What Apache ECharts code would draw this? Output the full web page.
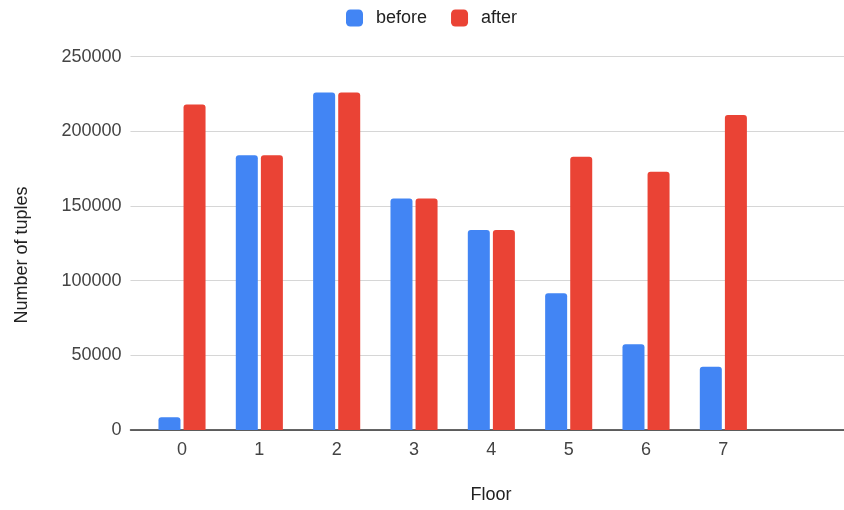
<!DOCTYPE html>
<html>
<head>
<meta charset="utf-8">
<script src="https://cdn.jsdelivr.net/npm/echarts@6/dist/echarts.min.js"></script>
<style>
  html, body { margin: 0; padding: 0; background: #fff; }
  #chart { width: 844px; height: 510px; }
</style>
</head>
<body>
<div id="chart"></div>
<script>
const floors = [0, 1, 2, 3, 4, 5, 6, 7];
const before = [8500, 184000, 226000, 155000, 134000, 91500, 57400, 42400];
const after = [218000, 184000, 226000, 155000, 134000, 183000, 173000, 211000];
const yTicks = [0, 50000, 100000, 150000, 200000, 250000];
const seriesNames = ['before', 'after'];
const xTitle = 'Floor';
const yTitle = 'Number of tuples';

const FONT = '"Liberation Sans", Arial, sans-serif';
const chart = echarts.init(document.getElementById('chart'), null, { renderer: 'canvas' });

const toPairs = (vals) => floors.map((f, i) => [f, vals[i]]);

chart.setOption({
  animation: false,
  backgroundColor: '#ffffff',
  color: ['#4285F4', '#EA4335'],
  legend: {
    data: seriesNames,
    left: 341,
    top: 4,
    itemWidth: 17,
    itemHeight: 17,
    itemGap: 24,
    icon: 'roundRect',
    textStyle: { fontFamily: FONT, fontSize: 18, color: '#222', padding: [0, 0, 0, 8] }
  },
  grid: { left: 130.5, right: 0, top: 56.7, bottom: 80, containLabel: false },
  xAxis: {
    type: 'value',
    min: -0.666,
    max: 8.56,
    splitNumber: 9,
    splitLine: { show: false },
    axisTick: { show: false },
    axisLine: { show: true, onZero: false, lineStyle: { color: '#333', width: 1.5 } },
    axisLabel: {
      fontFamily: FONT, fontSize: 18, color: '#444', margin: 11,
      showMinLabel: false, showMaxLabel: false,
      formatter: (v) => (floors.indexOf(v) >= 0 ? String(v) : '')
    }
  },
  yAxis: {
    type: 'value',
    min: yTicks[0],
    max: yTicks[yTicks.length - 1],
    interval: yTicks[1] - yTicks[0],
    axisLine: { show: false },
    axisTick: { show: false },
    splitLine: { lineStyle: { color: '#d6d6d6', width: 1.2 } },
    axisLabel: { fontFamily: FONT, fontSize: 18, color: '#444', margin: 9, formatter: (v) => String(v) }
  },
  graphic: [
    {
      type: 'text',
      position: [491, 495],
      style: { text: xTitle, font: '18px ' + FONT, fill: '#222', align: 'center', verticalAlign: 'middle' }
    },
    {
      type: 'text',
      rotation: Math.PI / 2,
      position: [22, 255],
      style: { text: yTitle, font: '18px ' + FONT, fill: '#222', align: 'center', verticalAlign: 'middle' }
    }
  ],
  series: [
    {
      name: seriesNames[0],
      type: 'bar',
      data: toPairs(before),
      barWidth: 22,
      barGap: '14%',
      itemStyle: { borderRadius: [3, 3, 0, 0] }
    },
    {
      name: seriesNames[1],
      type: 'bar',
      data: toPairs(after),
      barWidth: 22,
      barGap: '14%',
      itemStyle: { borderRadius: [3, 3, 0, 0] }
    }
  ]
});
</script>
</body>
</html>
